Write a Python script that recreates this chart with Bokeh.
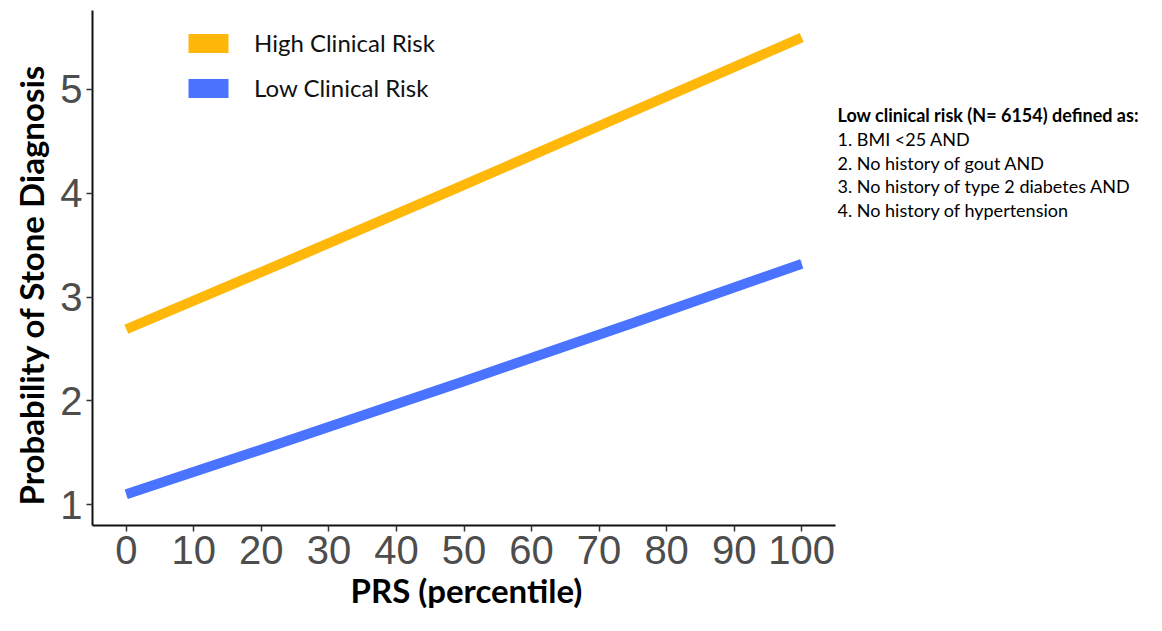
from bokeh.plotting import figure
from bokeh.models import Legend, LegendItem, FixedTicker, ColumnDataSource, Title
from bokeh.core.properties import value
from bokeh.embed import file_html
from bokeh.resources import INLINE

# Data
prs = [0, 25, 50, 75, 100]
high_risk = [2.69, 3.38, 4.08, 4.79, 5.50]
low_risk = [1.10, 1.64, 2.19, 2.75, 3.32]
low_lower = [1.07, 1.61, 2.16, 2.72, 3.28]
low_upper = [1.13, 1.67, 2.22, 2.78, 3.36]
x_ticks = [0, 10, 20, 30, 40, 50, 60, 70, 80, 90, 100]
y_ticks = [1, 2, 3, 4, 5]
series_names = ["High Clinical Risk", "Low Clinical Risk"]
x_title = "PRS (percentile)"
y_title = "Probability of Stone Diagnosis"
note_title = "Low clinical risk (N= 6154) defined as:"
note_lines = ["1. BMI <25 AND", "2. No history of gout AND",
              "3. No history of type 2 diabetes AND", "4. No history of hypertension"]

ORANGE = "#FFB70A"
BLUE = "#4A74FF"

W, H = 1146, 615
BL, BR, BT, BB = 92, 311, 10, 90
frame_w = W - BL - BR
frame_h = H - BT - BB
x0, x1 = -5, 105
px_per_x = frame_w / (x1 - x0)
x_max = x1 + BR / px_per_x
y0, y1 = 0.8, 5.76
px_per_y = frame_h / (y1 - y0)

p = figure(width=W, height=H, output_backend="svg", toolbar_location=None,
           x_range=(x0, x_max), y_range=(y0, y1),
           min_border_left=BL, min_border_right=0, min_border_top=BT, min_border_bottom=BB)
p.outline_line_color = None
p.grid.grid_line_color = None
p.background_fill_color = "white"

src = ColumnDataSource(dict(x=prs, hi=high_risk, lo=low_risk, lo_l=low_lower, lo_u=low_upper))
p.varea(x="x", y1="lo_l", y2="lo_u", source=src, fill_color="#b8b8b8", fill_alpha=0.7)
p.line(x="x", y="hi", source=src, line_color=ORANGE, line_width=10)
p.line(x="x", y="lo", source=src, line_color=BLUE, line_width=10)

# legend proxies (placed outside the visible range)
r_hi = p.quad(left=[-1000], right=[-999], top=[-1000], bottom=[-999], fill_color=ORANGE, line_color=None)
r_lo = p.quad(left=[-1000], right=[-999], top=[-1000], bottom=[-999], fill_color=BLUE, line_color=None)
legend = Legend(items=[LegendItem(label=series_names[0], renderers=[r_hi]),
                       LegendItem(label=series_names[1], renderers=[r_lo])],
                location=(91, frame_h - 20 - 72), orientation="vertical",
                glyph_width=50, glyph_height=24, label_height=28, spacing=16,
                padding=0, margin=0, border_line_color=None, background_fill_alpha=0,
                label_text_font="Lato", label_text_font_size="24px",
                label_text_color="#111111", label_standoff=21)
p.add_layout(legend, "center")

for ax in (p.xaxis[0], p.yaxis[0]):
    ax.axis_line_color = "#111111"
    ax.axis_line_width = 2
    ax.major_tick_line_color = "#333333"
    ax.major_tick_line_width = 1.5
    ax.major_tick_out = 6
    ax.major_tick_in = 0
    ax.minor_tick_line_color = None
    ax.major_label_text_font = "Liberation Sans"
    ax.major_label_text_font_size = "40px"
    ax.major_label_text_color = "#4d4d4d"

p.xaxis.bounds = (x0, x1)
p.xaxis.ticker = FixedTicker(ticks=x_ticks)
p.yaxis.ticker = FixedTicker(ticks=y_ticks)
p.xaxis.major_label_standoff = 4
p.yaxis.major_label_standoff = 4

# axis titles as Title panels so they can be positioned along the axes
xt = Title(text=x_title, align="left", offset=350 - BL, standoff=3,
           text_font="Lato", text_font_style="bold", text_font_size="33px", text_color="#000000")
p.add_layout(xt, "below")
yt = Title(text=y_title, align="left", offset=20, standoff=14,
           text_font="Lato", text_font_style="bold", text_font_size="33px", text_color="#000000")
p.add_layout(yt, "left")

# right-side note
note_x = x1 + 2 / px_per_x
note_y0 = 5 - (115 - 89) / px_per_y
texts = [note_title] + note_lines
ys = [note_y0 - i * 23.6 / px_per_y for i in range(len(texts))]
p.text(x=[note_x], y=[ys[0]], text=[texts[0]], text_font=value("Lato"), text_font_style="bold",
       text_font_size="18px", text_color="#000000", text_baseline="middle")
p.text(x=[note_x] * len(note_lines), y=ys[1:], text=note_lines, text_font=value("Lato"),
       text_font_size="18px", text_color="#000000", text_baseline="middle")

open("out.html", "w").write(file_html(p, INLINE))
